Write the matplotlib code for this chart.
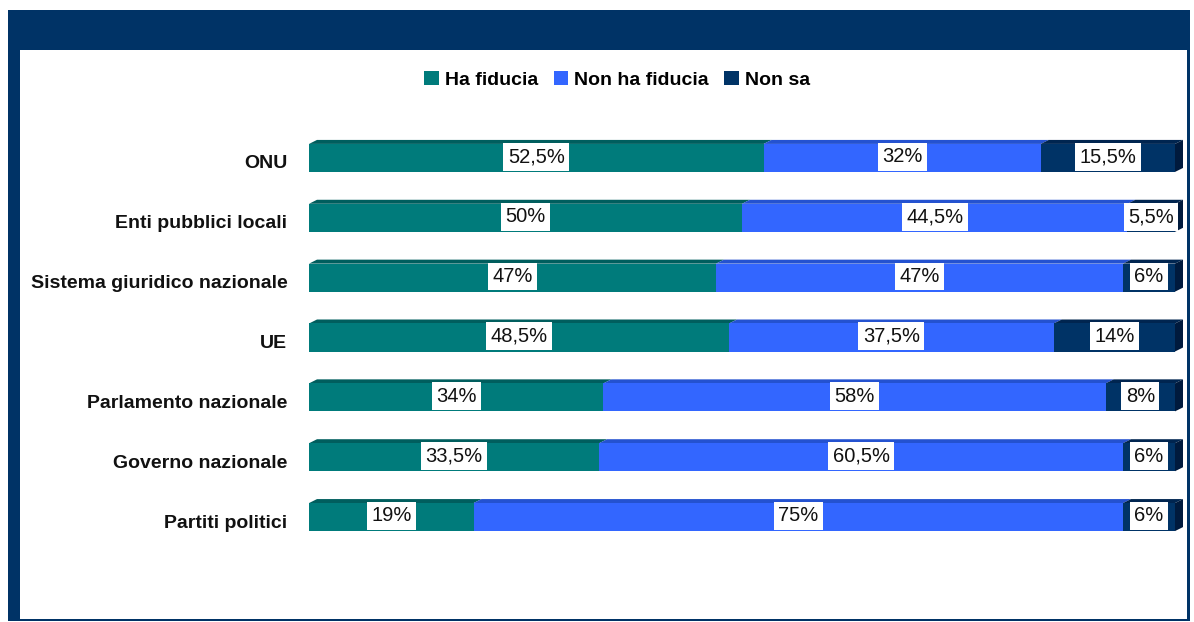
import matplotlib
matplotlib.use("Agg")
import matplotlib.pyplot as plt
from matplotlib.patches import Polygon, Rectangle

categories = ["ONU", "Enti pubblici locali", "Sistema giuridico nazionale", "UE",
              "Parlamento nazionale", "Governo nazionale", "Partiti politici"]
ha_fiducia = [52.5, 50, 47, 48.5, 34, 33.5, 19]
non_ha_fiducia = [32, 44.5, 47, 37.5, 58, 60.5, 75]
non_sa = [15.5, 5.5, 6, 14, 8, 6, 6]
series_names = ["Ha fiducia", "Non ha fiducia", "Non sa"]

colors = ["#007B7B", "#3366FF", "#003366"]
top_colors = ["#005E5E", "#2452D0", "#002550"]
side_color = "#001A3D"
navy = "#003366"

plt.rcParams['font.family'] = ['Liberation Sans', 'DejaVu Sans']

W, H = 1194, 622
fig = plt.figure(figsize=(W / 100, H / 100), dpi=100)
fig.patch.set_facecolor("white")

# frame
def frect(x0, y0, x1, y1, color):
    fig.patches.append(Rectangle((x0 / W, 1 - y1 / H), (x1 - x0) / W, (y1 - y0) / H,
                                 transform=fig.transFigure, facecolor=color,
                                 edgecolor="none", zorder=0))

frect(8, 10, 1190, 50, navy)      # header
frect(8, 10, 20, 621, navy)       # left border
frect(1187, 10, 1190, 621, navy)  # right border
frect(8, 619, 1190, 621, navy)    # bottom border

ax_l, ax_r, ax_t, ax_b = 309, 1175, 128, 547
ax = fig.add_axes([ax_l / W, 1 - ax_b / H, (ax_r - ax_l) / W, (ax_b - ax_t) / H])
ax.set_xlim(0, 100)
ax.set_ylim(-0.5, len(categories) - 0.5)
ax.axis("off")

ypos = [len(categories) - 1 - i for i in range(len(categories))]
h = 0.468
dx = 8 / (ax_r - ax_l) * 100
dy = 4 / ((ax_b - ax_t) / len(categories))

series = [ha_fiducia, non_ha_fiducia, non_sa]
lefts = [0.0] * len(categories)
handles = []
for s, vals in enumerate(series):
    b = ax.barh(ypos, vals, left=lefts, height=h, color=colors[s], label=series_names[s], zorder=2)
    handles.append(b)
    for i, (y, v, l) in enumerate(zip(ypos, vals, lefts)):
        top = y + h / 2
        poly = Polygon([(l, top), (l + dx, top + dy), (l + v + dx, top + dy), (l + v, top)],
                       closed=True, facecolor=top_colors[s], edgecolor="none", zorder=1,
                       clip_on=False)
        ax.add_patch(poly)
        txt = f"{v:g}%".replace(".", ",")
        ax.text(l + v / 2, y + 0.02, txt, ha="center", va="center", fontsize=14.5,
                color="#111111", zorder=5,
                bbox=dict(boxstyle="square,pad=0.22", facecolor="white", edgecolor="none"))
    lefts = [a + b2 for a, b2 in zip(lefts, vals)]

for y, tot in zip(ypos, lefts):
    side = Polygon([(tot, y - h / 2), (tot, y + h / 2), (tot + dx, y + h / 2 + dy),
                    (tot + dx, y - h / 2 + dy)], closed=True, facecolor=side_color,
                   edgecolor="none", zorder=3, clip_on=False)
    ax.add_patch(side)

for y, c in zip(ypos, categories):
    ax.text(-2.5, y - 0.1, c, ha="right", va="center", fontsize=14, fontweight="bold",
            color="#111111")

leg = fig.legend(handles=handles, labels=series_names, loc="center",
                 bbox_to_anchor=(617 / W, 1 - 80 / H), ncol=3, frameon=False,
                 handlelength=0.75, handleheight=0.75, handletextpad=0.3, columnspacing=0.8,
                 prop={"size": 14, "weight": "bold"})

fig.savefig("out.png", dpi=100, facecolor="white")
